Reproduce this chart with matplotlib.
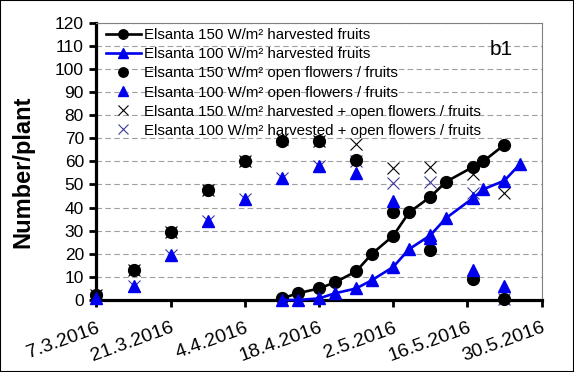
import numpy as np
import matplotlib
matplotlib.use('Agg')
import matplotlib.pyplot as plt
from matplotlib.patches import Rectangle

plt.rcParams['font.family'] = ['Liberation Sans', 'DejaVu Sans']

# open flowers / fruits counts (weekly)
open_dates = np.array(['2016-03-07', '2016-03-14', '2016-03-21', '2016-03-28', '2016-04-04',
                       '2016-04-11', '2016-04-18', '2016-04-25', '2016-05-02', '2016-05-09',
                       '2016-05-17', '2016-05-23'], dtype='datetime64[D]')
open_150 = [2, 13, 29.5, 47.5, 60, 69, 69, 60.5, 38, 21.5, 9, 0.5]
open_100 = [1, 6, 19.5, 34, 43.5, 53, 58, 55, 43, 27, 13, 6]
total_150 = [2, 13, 29.5, 47.5, 60, 69.5, 69, 67.6, 57, 57.4, 54.5, 46.4]
total_100 = [1, 6, 19.5, 34, 43.5, 53, 58, 60, 50.7, 51, 46.4, 0.5]

# cumulative harvested fruits
harv_dates = np.array(['2016-04-11', '2016-04-14', '2016-04-18', '2016-04-21', '2016-04-25',
                       '2016-04-28', '2016-05-02', '2016-05-05', '2016-05-09', '2016-05-12',
                       '2016-05-17', '2016-05-19', '2016-05-23', '2016-05-26'], dtype='datetime64[D]')
harv_150 = [0.7, 2.9, 5, 7.6, 12.4, 20, 27.8, 37.9, 44.6, 51.2, 57.5, 60, 67.2]
harv_100 = [0, 0, 0.7, 2.9, 5, 8.6, 14.3, 22, 28, 35.5, 44, 47.9, 51.7, 59]

tick_dates = np.array(['2016-03-07', '2016-03-21', '2016-04-04', '2016-04-18',
                       '2016-05-02', '2016-05-16', '2016-05-30'], dtype='datetime64[D]')
tick_labels = ['7.3.2016', '21.3.2016', '4.4.2016', '18.4.2016', '2.5.2016', '16.5.2016', '30.5.2016']

blue = '#0000ee'
xblue = '#3b3b9a'

fig = plt.figure(figsize=(5.74, 3.72), dpi=100)
ax = fig.add_axes([0.168, 0.1935, 0.7755, 0.7455])

ax.plot(harv_dates[:len(harv_150)], harv_150, '-o', color='black', lw=1.9, ms=8.5,
        label='Elsanta 150 W/m² harvested fruits', clip_on=False, zorder=3)
ax.plot(harv_dates, harv_100, '-^', color=blue, lw=1.9, ms=8.5,
        label='Elsanta 100 W/m² harvested fruits', clip_on=False, zorder=3)
ax.plot(open_dates, open_150, 'o', color='black', ms=8.5,
        label='Elsanta 150 W/m² open flowers / fruits', clip_on=False, zorder=4)
ax.plot(open_dates, open_100, '^', color=blue, ms=8.5,
        label='Elsanta 100 W/m² open flowers / fruits', clip_on=False, zorder=4)
ax.plot(open_dates, total_150, 'x', color='black', ms=9, mew=0.8,
        label='Elsanta 150 W/m² harvested + open flowers / fruits', clip_on=False, zorder=2)
ax.plot(open_dates, total_100, 'x', color=xblue, ms=9, mew=0.8,
        label='Elsanta 100 W/m² harvested + open flowers / fruits', clip_on=False, zorder=2)

ax.set_xlim(tick_dates[0], tick_dates[-1])
ax.set_ylim(0, 120)
ax.set_yticks(range(0, 121, 10))
ax.set_xticks(tick_dates)
ax.set_xticklabels(tick_labels, rotation=20, ha='right', rotation_mode='anchor')
ax.tick_params(axis='both', direction='out', length=5, width=2)
ax.tick_params(axis='y', labelsize=12.5, pad=4)
ax.tick_params(axis='x', labelsize=14, pad=9)

ax.yaxis.grid(True, color='#a0a0a0', ls=(0, (5, 3)), lw=0.8)
ax.set_axisbelow(True)

for s in ['left', 'bottom']:
    ax.spines[s].set_linewidth(2.3)
    ax.spines[s].set_color('black')
for s in ['top', 'right']:
    ax.spines[s].set_linewidth(0.8)
    ax.spines[s].set_color('#808080')

ax.set_ylabel('Number/plant', fontsize=17, fontweight='bold')
ax.yaxis.set_label_coords(-0.14, 0.461)

ax.legend(loc='upper left', bbox_to_anchor=(0.022, 0.98), frameon=False, fontsize=10.8,
          handlelength=2.3, handletextpad=0.2, labelspacing=0.34, borderpad=0,
          borderaxespad=0, markerscale=0.8)

ax.text(0.91, 0.905, 'b1', transform=ax.transAxes, fontsize=15, ha='center', va='center')

fig.patches.append(Rectangle((0, 0), 1, 1, transform=fig.transFigure, fill=False,
                             edgecolor='black', lw=1.5))

fig.savefig('out.png', dpi=100)
